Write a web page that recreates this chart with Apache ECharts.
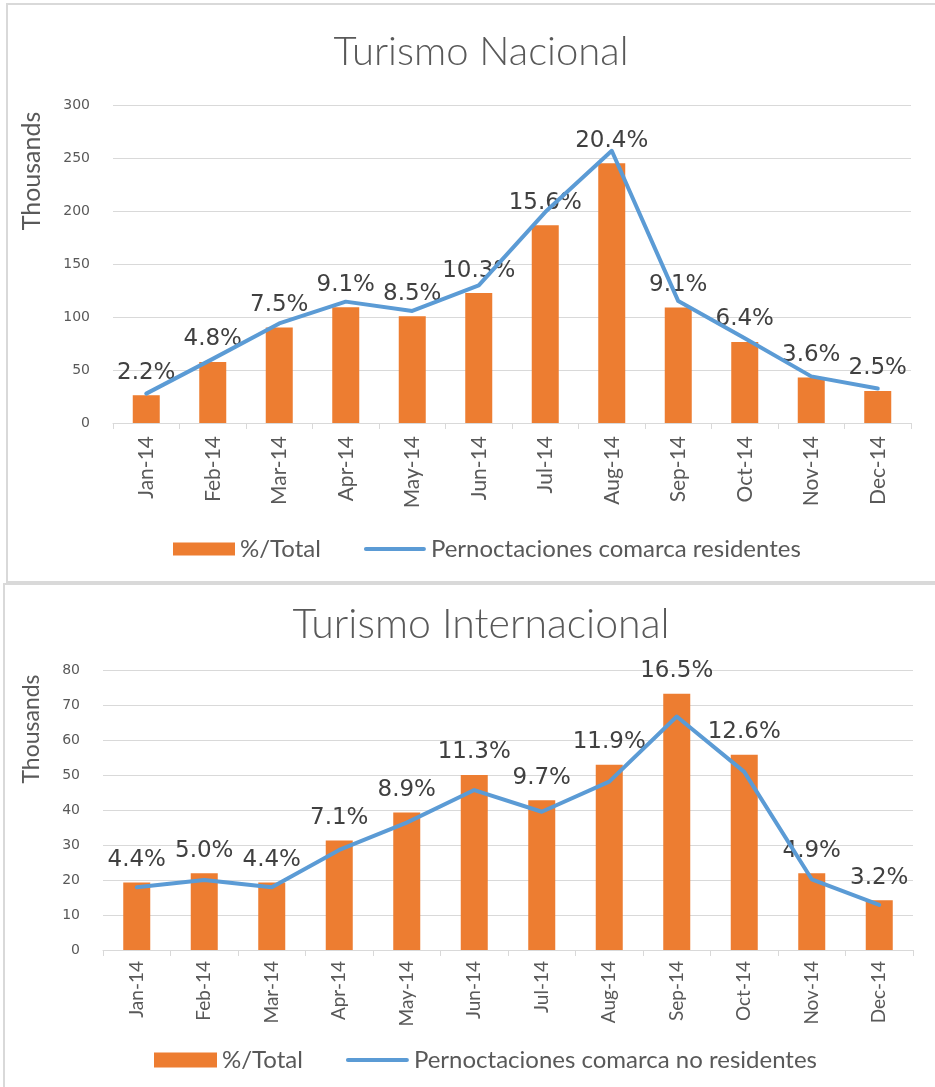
<!DOCTYPE html>
<html>
<head>
<meta charset="utf-8">
<script src="https://cdn.jsdelivr.net/npm/echarts@6/dist/echarts.min.js"></script>
<style>
  html, body { margin: 0; padding: 0; background: #fff; overflow: hidden; }
  .box { position: absolute; border: 2px solid #d9d9d9; background: #fff; }
  #main { position: absolute; left: 0; top: 0; width: 935px; height: 1087px; }
</style>
</head>
<body>
<div class="box" style="left:6px;top:3px;width:960px;height:576px;"></div>
<div class="box" style="left:3px;top:583px;width:960px;height:540px;"></div>
<div id="main"></div>
<script>
// months shared by both charts
var months = ['Jan-14', 'Feb-14', 'Mar-14', 'Apr-14', 'May-14', 'Jun-14',
  'Jul-14', 'Aug-14', 'Sep-14', 'Oct-14', 'Nov-14', 'Dec-14'];

// Turismo Nacional (thousands)
var nacionalBars = [26.2, 57.6, 90, 109.2, 100.7, 122.6, 186.5, 245, 109, 76.5, 42.9, 30.2];
var nacionalLine = [27.7, 60.5, 93.9, 114.5, 105.7, 129.9, 199, 256.8, 115, 80, 44, 32.5];
var nacionalPct = ['2.2%', '4.8%', '7.5%', '9.1%', '8.5%', '10.3%', '15.6%', '20.4%', '9.1%', '6.4%', '3.6%', '2.5%'];
var nacionalTicks = [0, 50, 100, 150, 200, 250, 300];

// Turismo Internacional (thousands)
var interBars = [19.3, 21.9, 19.3, 31.3, 39.3, 50, 42.8, 52.9, 73.2, 55.8, 21.9, 14.2];
var interLine = [17.9, 20, 17.9, 28.6, 36.4, 45.7, 39.5, 48.1, 66.7, 50.9, 20.2, 12.9];
var interPct = ['4.4%', '5.0%', '4.4%', '7.1%', '8.9%', '11.3%', '9.7%', '11.9%', '16.5%', '12.6%', '4.9%', '3.2%'];
var interTicks = [0, 10, 20, 30, 40, 50, 60, 70, 80];

var orange = '#ed7d31';
var blue = '#5b9bd5';
var gridColor = '#d9d9d9';
var textGray = '#595959';

function xAxisFor(gridIndex, fontSize, margin) {
  return {
    type: 'category',
    gridIndex: gridIndex,
    data: months,
    axisLine: {lineStyle: {color: gridColor, width: 1}},
    axisTick: {show: true, length: 6, lineStyle: {color: gridColor}},
    axisLabel: {
      interval: 0,
      rotate: 90,
      margin: margin,
      color: textGray,
      fontFamily: 'Lato',
      fontSize: fontSize
    }
  };
}

function yAxisFor(gridIndex, ticks) {
  return {
    type: 'value',
    gridIndex: gridIndex,
    min: ticks[0],
    max: ticks[ticks.length - 1],
    interval: ticks[1] - ticks[0],
    axisLine: {show: false},
    axisTick: {show: false},
    splitLine: {lineStyle: {color: gridColor, width: 1}},
    axisLabel: {
      margin: 23,
      color: textGray,
      fontFamily: 'DejaVu Sans',
      fontSize: 14
    }
  };
}

function barSeries(idx, data, pct) {
  return {
    name: '%/Total',
    type: 'bar',
    xAxisIndex: idx,
    yAxisIndex: idx,
    data: data,
    barWidth: 27,
    itemStyle: {color: orange},
    label: {
      show: true,
      position: 'top',
      distance: 11,
      color: '#404040',
      fontFamily: 'DejaVu Sans',
      fontSize: 23,
      formatter: function (p) { return pct[p.dataIndex]; }
    },
    z: 2
  };
}

function lineSeries(idx, name, data) {
  return {
    name: name,
    type: 'line',
    xAxisIndex: idx,
    yAxisIndex: idx,
    data: data,
    symbol: 'none',
    lineStyle: {color: blue, width: 4, cap: 'round', join: 'round'},
    itemStyle: {color: blue},
    z: 3
  };
}

var legendText = {color: textGray, fontFamily: 'Lato', fontSize: 24};
var lineIcon = 'path://M2,0H60A2,2,0,0,1,60,4H2A2,2,0,0,1,2,0Z';

var option = {
  animation: false,
  backgroundColor: 'transparent',
  title: [
    {
      text: 'Turismo Nacional',
      left: 476,
      top: 27,
      textAlign: 'center',
      textStyle: {color: textGray, fontFamily: 'Lato', fontWeight: 300, fontSize: 40}
    },
    {
      text: 'Turismo Internacional',
      left: 476,
      top: 599,
      textAlign: 'center',
      textStyle: {color: textGray, fontFamily: 'Lato', fontWeight: 300, fontSize: 41}
    }
  ],
  legend: [
    {
      left: 168,
      top: 532,
      itemWidth: 62,
      itemHeight: 13,
      itemGap: 43,
      textStyle: legendText,
      data: [
        {name: '%/Total', icon: 'rect'},
        {name: 'Pernoctaciones comarca residentes', icon: lineIcon}
      ]
    },
    {
      left: 149,
      top: 1043,
      itemWidth: 63,
      itemHeight: 15,
      itemGap: 43,
      textStyle: legendText,
      data: [
        {name: '%/Total', icon: 'rect'},
        {name: 'Pernoctaciones comarca no residentes', icon: lineIcon}
      ]
    }
  ],
  graphic: [
    {
      type: 'text',
      x: 32, y: 171,
      rotation: Math.PI / 2,
      style: {text: 'Thousands', fill: textGray, font: '25px Lato', align: 'center', verticalAlign: 'middle'}
    },
    {
      type: 'text',
      x: 32, y: 729,
      rotation: Math.PI / 2,
      style: {text: 'Thousands', fill: textGray, font: '23px Lato', align: 'center', verticalAlign: 'middle'}
    }
  ],
  grid: [
    {left: 113, width: 798, top: 105, height: 318},
    {left: 103, width: 810, top: 670, height: 280}
  ],
  xAxis: [xAxisFor(0, 21, 13), xAxisFor(1, 19, 11)],
  yAxis: [yAxisFor(0, nacionalTicks), yAxisFor(1, interTicks)],
  series: [
    barSeries(0, nacionalBars, nacionalPct),
    lineSeries(0, 'Pernoctaciones comarca residentes', nacionalLine),
    barSeries(1, interBars, interPct),
    lineSeries(1, 'Pernoctaciones comarca no residentes', interLine)
  ]
};

var myChart = echarts.init(document.getElementById('main'));
myChart.setOption(option);
</script>
</body>
</html>
